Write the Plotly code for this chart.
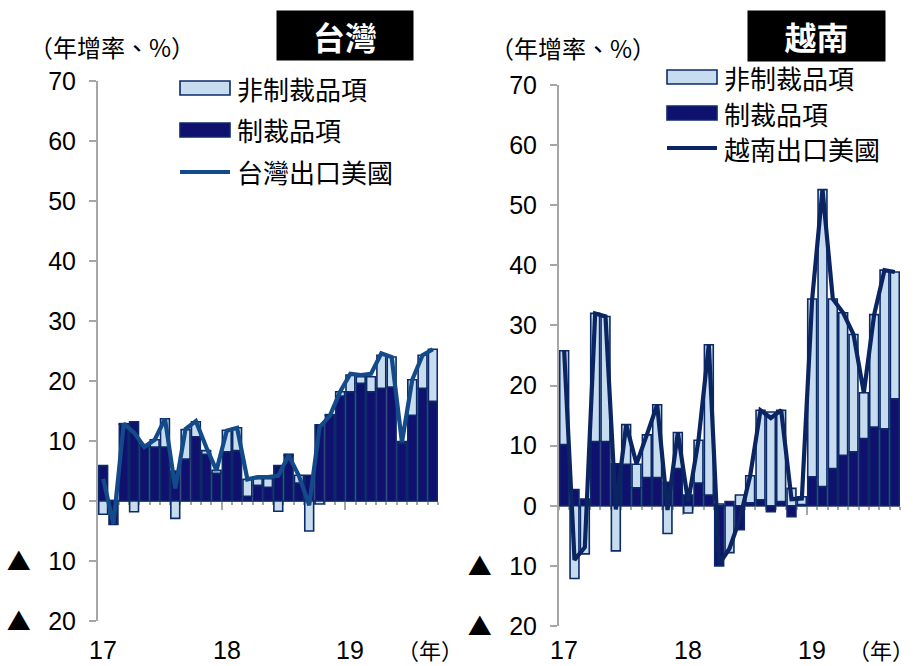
import plotly.graph_objects as go

# ---------------- data ----------------
months = list(range(33))            # Jan-2017 .. Sep-2019
year_labels = ["17", "18", "19"]
year_pos = [0, 12, 24]

tw_sanction = [5.9, -3.9, 12.8, 13.2, 9.3, 9.0, 9.0, 5.0, 7.0, 10.7, 7.8, 4.6,
               8.2, 8.4, 0.8, 2.6, 2.3, 5.9, 7.6, 3.0, 4.3, 12.7, 14.3, 17.5,
               18.2, 19.6, 18.2, 18.8, 19.0, 9.6, 14.3, 18.8, 16.6]
tw_non = [-2.2, 0.1, 0.1, -1.8, 0.1, 1.2, 4.7, -2.9, 4.9, 2.5, 0.6, 0.5,
          3.6, 3.8, 2.8, 1.1, 1.4, -1.7, 0.2, 1.3, -5.0, -0.5, 0.1, 0.7,
          2.8, 1.1, 2.5, 5.5, 5.0, 0.3, 5.9, 5.5, 8.7]
tw_total = [3.7, -3.8, 12.9, 11.4, 9.0, 10.2, 13.7, 2.1, 12.0, 13.3, 9.0, 5.1,
            11.7, 12.2, 3.6, 4.0, 4.0, 4.2, 7.6, 4.2, -0.7, 12.3, 14.2, 18.2,
            21.2, 21.0, 21.2, 24.6, 24.0, 9.8, 20.2, 24.3, 25.3]

vn_sanction = [10.2, 2.7, 1.1, 10.7, 10.7, 7.0, 6.9, 3.0, 4.7, 4.7, 3.9, 6.2,
               1.8, 3.8, 1.8, -10.0, 0.7, -4.0, 0.5, 1.0, -1.0, 0.7, -1.8, 0.2,
               4.8, 3.2, 6.2, 8.4, 9.0, 11.2, 13.1, 12.8, 17.8]
vn_non = [15.6, -12.1, -8.0, 21.3, 20.8, -7.5, 6.6, 3.9, 7.1, 12.1, -4.6, 6.0,
          -1.2, 7.1, 25.0, 0.3, -7.8, 1.8, 4.5, 14.9, 15.6, 15.2, 2.9, 1.3,
          29.6, 49.4, 28.2, 23.7, 19.5, 7.6, 18.7, 26.4, 21.1]
vn_total = [25.8, -9.0, -6.9, 32.0, 31.5, -0.6, 13.5, 7.0, 11.8, 16.8, -0.7, 12.2,
            0.6, 10.9, 26.8, -9.7, -7.1, -2.2, 5.0, 15.9, 14.6, 15.9, 1.1, 1.2,
            34.4, 52.6, 34.4, 32.1, 28.5, 18.8, 31.8, 39.2, 38.9]

legend_tw = ["非制裁品項", "制裁品項", "台灣出口美國"]
legend_vn = ["非制裁品項", "制裁品項", "越南出口美國"]
titles = ["台灣", "越南"]
y_title = "（年增率、%）"
x_unit = "（年）"
y_ticks = [-20, -10, 0, 10, 20, 30, 40, 50, 60, 70]
TRI = "<span style='font-family:Noto Sans CJK TC;font-size:24px'>▲</span>\u2002\u2009"
y_ticktext = [TRI + "20", TRI + "10", "0", "10", "20", "30", "40", "50", "60", "70"]

# ---------------- style ----------------
W, H = 918, 666
DARK = "#10106e"
LIGHT = "#c7dcee"
EDGE = "#0c2a68"
LINE_TW = "#124a8a"
LINE_VN = "#0b2462"
AXIS = "#a6a6a6"
NUM_FONT = "Liberation Sans, Arial, sans-serif"
CJK_FONT = "Noto Sans CJK TC, Noto Sans CJK JP, sans-serif"


def px(x):
    return x / W


def py(y):
    return 1 - y / H


panels = [
    dict(x0=98, x1=438, ytop=81, ybot=621, xa="x", ya="y",
         san=tw_sanction, non=tw_non, tot=tw_total, line=LINE_TW,
         leg=legend_tw, title=titles[0], box=(277, 413, 11, 60),
         ytitle=(27, 46), leg_x=180, leg_rows=(88, 130, 172),
         unit=(430, 649, "center")),
    dict(x0=559, x1=900, ytop=85, ybot=626, xa="x2", ya="y2",
         san=vn_sanction, non=vn_non, tot=vn_total, line=LINE_VN,
         leg=legend_vn, title=titles[1], box=(748, 885, 11, 61),
         ytitle=(488, 47), leg_x=667, leg_rows=(77, 113, 148),
         unit=(916, 649, "right")),
]

fig = go.Figure()
shapes = []
annotations = []

for k, p in enumerate(panels):
    fig.add_trace(go.Bar(x=months, y=p["san"], name=p["leg"][1],
                         marker=dict(color=DARK, line=dict(color=EDGE, width=1.6)),
                         xaxis=p["xa"], yaxis=p["ya"], showlegend=False))
    fig.add_trace(go.Bar(x=months, y=p["non"], name=p["leg"][0],
                         marker=dict(color=LIGHT, line=dict(color=EDGE, width=1.6)),
                         xaxis=p["xa"], yaxis=p["ya"], showlegend=False))
    fig.add_trace(go.Scatter(x=months, y=p["tot"], name=p["leg"][2], mode="lines",
                             line=dict(color=p["line"], width=4.2),
                             xaxis=p["xa"], yaxis=p["ya"], showlegend=False))

    zero_py = p["ytop"] + (p["ybot"] - p["ytop"]) * 70 / 90
    suffix = "" if k == 0 else "2"
    xa = dict(domain=[px(p["x0"]), px(p["x1"])], range=[-0.5, 32.5],
              anchor="free", position=py(zero_py), automargin=False,
              showline=True, linecolor=AXIS, linewidth=2, layer="below traces",
              ticks="outside", tickmode="array", tickvals=[11.5, 23.5],
              ticklen=8, tickwidth=2, tickcolor=AXIS,
              minor=dict(tickmode="linear", tick0=-0.5, dtick=1, ticks="outside",
                         ticklen=3, tickwidth=1.5, tickcolor=AXIS),
              showticklabels=False, showgrid=False, zeroline=False, fixedrange=True)
    ya = dict(domain=[py(p["ybot"]), py(p["ytop"])], range=[-20, 70],
              anchor=p["xa"], automargin=False,
              tickmode="array", tickvals=y_ticks, ticktext=y_ticktext,
              ticks="outside", ticklen=7, tickwidth=2, tickcolor=AXIS,
              showline=True, linecolor=AXIS, linewidth=2,
              showgrid=False, zeroline=False, ticklabelstandoff=8,
              tickfont=dict(family=NUM_FONT, size=25, color="black"))
    fig.update_layout(**{"xaxis" + suffix: xa, "yaxis" + suffix: ya})

    # year labels
    for lab, pos in zip(year_labels, year_pos):
        annotations.append(dict(x=pos, y=py(650), xref=p["xa"], yref="paper",
                                text=lab, showarrow=False, xanchor="center", yanchor="middle",
                                font=dict(family=NUM_FONT, size=25, color="black")))
    ux, uy, uanc = p["unit"]
    annotations.append(dict(x=px(ux), y=py(uy), xref="paper", yref="paper",
                            text=x_unit, showarrow=False, xanchor=uanc, yanchor="middle",
                            font=dict(family=CJK_FONT, size=22, color="black")))
    # y title
    annotations.append(dict(x=px(p["ytitle"][0]), y=py(p["ytitle"][1]), xref="paper", yref="paper",
                            text=y_title, showarrow=False, xanchor="left", yanchor="middle",
                            font=dict(family=CJK_FONT, size=24, color="black")))
    # title box
    bx0, bx1, by0, by1 = p["box"]
    annotations.append(dict(x=px((bx0 + bx1) / 2), y=py((by0 + by1) / 2), xref="paper", yref="paper",
                            text="<b>" + p["title"] + "</b>", showarrow=False,
                            xanchor="center", yanchor="middle", bgcolor="black",
                            width=bx1 - bx0, height=by1 - by0, borderpad=0,
                            font=dict(family=CJK_FONT, size=32, color="white")))
    # custom legend
    lx = p["leg_x"]
    r1, r2, r3 = p["leg_rows"]
    shapes.append(dict(type="rect", xref="paper", yref="paper",
                       x0=px(lx), x1=px(lx + 50), y0=py(r1 + 7), y1=py(r1 - 7),
                       fillcolor=LIGHT, line=dict(color=EDGE, width=1.6)))
    shapes.append(dict(type="rect", xref="paper", yref="paper",
                       x0=px(lx), x1=px(lx + 50), y0=py(r2 + 7), y1=py(r2 - 7),
                       fillcolor=DARK, line=dict(color=EDGE, width=1.6)))
    shapes.append(dict(type="line", xref="paper", yref="paper",
                       x0=px(lx), x1=px(lx + 50), y0=py(r3), y1=py(r3),
                       line=dict(color=p["line"], width=4.2)))
    for txt, row in zip(p["leg"], (r1, r2, r3)):
        annotations.append(dict(x=px(lx + 55), y=py(row), xref="paper", yref="paper",
                                text=txt, showarrow=False, xanchor="left", yanchor="middle",
                                font=dict(family=CJK_FONT, size=26, color="black")))

fig.update_layout(width=W, height=H, autosize=False,
                  margin=dict(l=0, r=0, t=0, b=0, pad=0, autoexpand=False),
                  paper_bgcolor="white", plot_bgcolor="rgba(0,0,0,0)",
                  barmode="relative", bargap=0.14, showlegend=False,
                  shapes=shapes, annotations=annotations)

fig.write_html("out.html")
